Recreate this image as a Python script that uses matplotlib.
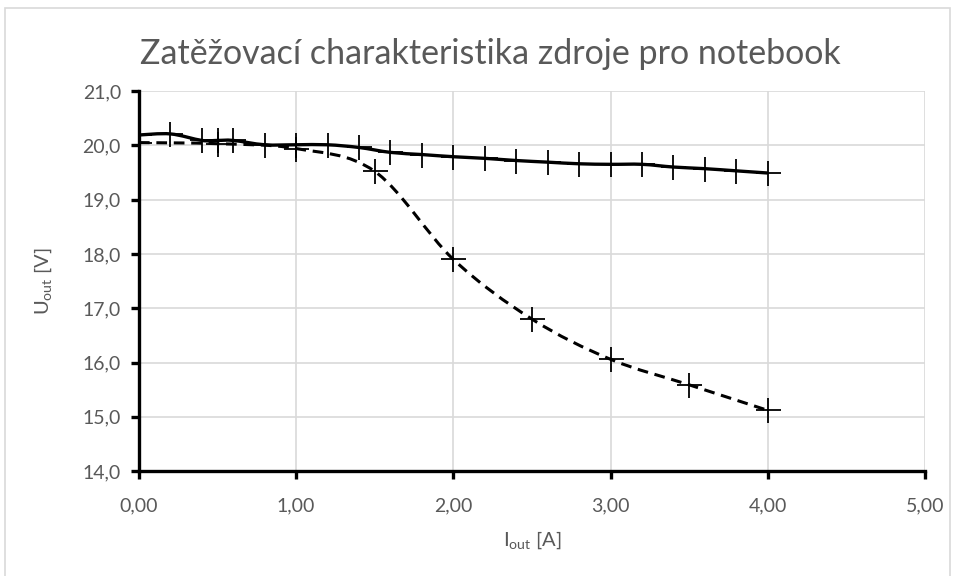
import numpy as np
import matplotlib.pyplot as plt
from matplotlib.path import Path
from matplotlib.patches import PathPatch, Rectangle
from matplotlib.ticker import FuncFormatter

i_solid = [0, 0.2, 0.4, 0.5, 0.6, 0.8, 1.0, 1.2, 1.4, 1.6, 1.8, 2.0, 2.2, 2.4,
           2.6, 2.8, 3.0, 3.2, 3.4, 3.6, 3.8, 4.0]
u_solid = [20.19, 20.21, 20.09, 20.09, 20.09, 20.01, 20.01, 20.01, 19.96, 19.87,
           19.83, 19.79, 19.76, 19.72, 19.69, 19.66, 19.65, 19.65, 19.60, 19.57,
           19.53, 19.49]

i_dash = [0, 0.5, 1.0, 1.5, 2.0, 2.5, 3.0, 3.5, 4.0]
u_dash = [20.05, 20.03, 19.94, 19.52, 17.90, 16.80, 16.06, 15.59, 15.12]

x_ticks = [0, 1, 2, 3, 4, 5]
y_ticks = [14, 15, 16, 17, 18, 19, 20, 21]

title = "Zatěžovací charakteristika zdroje pro notebook"
grey = "#595959"

plt.rcParams['font.family'] = ['Lato', 'DejaVu Sans']


def smooth_path(xs, ys):
    # Excel-like smoothed line: cubic Bezier segments through the points
    p = np.column_stack([xs, ys]).astype(float)
    verts = [p[0]]
    codes = [Path.MOVETO]
    n = len(p)
    for k in range(n - 1):
        p0 = p[k - 1] if k > 0 else p[k]
        p1, p2 = p[k], p[k + 1]
        p3 = p[k + 2] if k + 2 < n else p[k + 1]
        verts += [p1 + (p2 - p0) / 6, p2 - (p3 - p1) / 6, p2]
        codes += [Path.CURVE4] * 3
    return Path(verts, codes)


fig = plt.figure(figsize=(9.55, 5.76), dpi=100)
ax = fig.add_axes([0.1455, 0.182, 0.823, 0.660])

ax.add_patch(PathPatch(smooth_path(i_solid, u_solid), fill=False, color='black',
                       lw=2.4, zorder=3))
ax.add_patch(PathPatch(smooth_path(i_dash, u_dash), fill=False, color='black',
                       lw=2.2, linestyle=(0, (3.5, 2.2)), zorder=3))
ax.plot(i_solid, u_solid, ls='none', marker='+', ms=18, mew=1.3, color='black',
        zorder=4)
ax.plot(i_dash, u_dash, ls='none', marker='+', ms=18, mew=1.3, color='black',
        zorder=4)

ax.set_xlim(0, 5)
ax.set_ylim(14, 21)
ax.set_xticks(x_ticks)
ax.set_yticks(y_ticks)
ax.xaxis.set_major_formatter(FuncFormatter(lambda v, p: f"{v:.2f}".replace('.', ',')))
ax.yaxis.set_major_formatter(FuncFormatter(lambda v, p: f"{v:.1f}".replace('.', ',')))

ax.grid(True, color='#d9d9d9', lw=1.2)
ax.set_axisbelow(True)
for s in ['top', 'right']:
    ax.spines[s].set_visible(False)
for s in ['left', 'bottom']:
    ax.spines[s].set_linewidth(2.4)
    ax.spines[s].set_zorder(5)
ax.tick_params(axis='both', direction='out', length=6, width=2.4, color='black',
               labelcolor=grey, labelsize=14)
ax.tick_params(axis='x', pad=13)
ax.tick_params(axis='y', pad=7)

ax.set_xlabel(r"I$_\mathregular{out}$ [A]", color=grey, fontsize=14.5, labelpad=11)
ax.set_ylabel(r"U$_\mathregular{out}$ [V]", color=grey, fontsize=14.5)
ax.yaxis.set_label_coords(-0.108, 0.5)

fig.text(0.513, 0.906, title, ha='center', va='center', fontsize=24.5, color=grey)

fig.patches.append(Rectangle((0.005, -0.01), 0.99, 0.996, transform=fig.transFigure,
                             fill=False, edgecolor='#d9d9d9', lw=1.2))

fig.savefig("out.png", dpi=100)
